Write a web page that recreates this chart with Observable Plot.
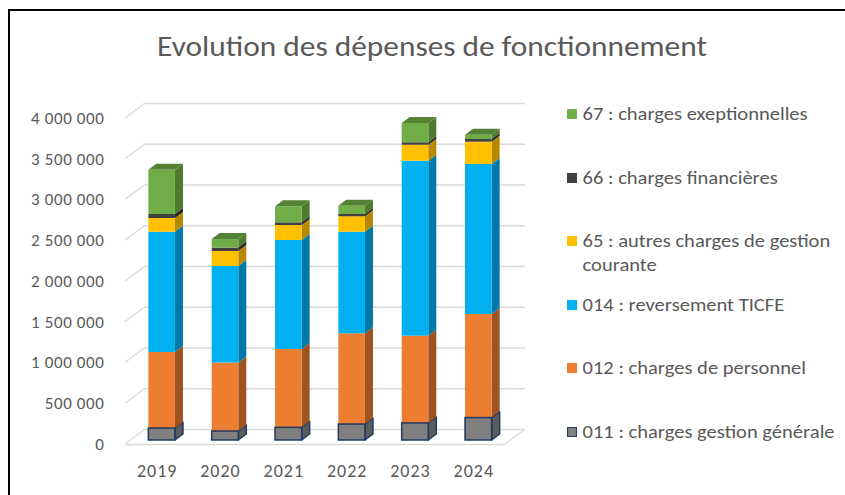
<!DOCTYPE html>
<html>
<head>
<meta charset="utf-8">
<script src="https://cdn.jsdelivr.net/npm/d3@7"></script>
<script src="https://cdn.jsdelivr.net/npm/@observablehq/plot@0.6"></script>
<style>
  body { margin: 0; background: #fff; font-family: Carlito, "Open Sans", sans-serif; }
  #wrap { position: relative; width: 845px; height: 495px; overflow: hidden; background: #fff; }
  #frame { position: absolute; left: 8px; top: 9px; width: 900px; height: 600px; border-left: 2px solid #000; border-top: 2px solid #000; }
  #title { position: absolute; left: 0; width: 864px; top: 32px; text-align: center; font-size: 28px; line-height: 30px; color: #595959; white-space: nowrap; transform: scaleX(1.12); transform-origin: 432px 0; }
  #chart { position: absolute; left: 0; top: 80px; }
  #legend { position: absolute; left: 567px; top: 102px; width: 250px; color: #595959; font-size: 18.5px; transform: scaleX(1.11); transform-origin: 0 0; }
  .item { position: relative; height: 63.6px; line-height: 24px; padding-left: 14px; }
  .sw { position: absolute; left: 0; top: 7px; width: 9px; height: 10px; box-sizing: border-box; }
  g[aria-label^="y-axis"] text { font-size: 17px; letter-spacing: 0.6px; }
  g[aria-label^="x-axis"] text { font-size: 18px; letter-spacing: 1px; }
</style>
</head>
<body>
<div id="wrap">
  <div id="frame"></div>
  <div id="title">Evolution des dépenses de fonctionnement</div>
  <div id="chart"></div>
  <div id="legend"></div>
</div>
<script>
// ---- data ----
const years = ["2019", "2020", "2021", "2022", "2023", "2024"];
const series = [
  "011 : charges gestion générale",
  "012 : charges de personnel",
  "014 : reversement TICFE",
  "65 : autres charges de gestion courante",
  "66 : charges financières",
  "67 : charges exeptionnelles"
];
const v011 = [147000, 110000, 155000, 196000, 209000, 275000];
const v012 = [933000, 840000, 962000, 1113000, 1071000, 1271000];
const v014 = [1475000, 1185000, 1337000, 1247000, 2147000, 1841000];
const v65  = [169000, 184000, 184000, 189000, 196000, 273000];
const v66  = [49000, 42000, 33000, 28000, 30000, 33000];
const v67  = [543000, 105000, 197000, 102000, 237000, 53000];
const yTicks = [0, 500000, 1000000, 1500000, 2000000, 2500000, 3000000, 3500000, 4000000];

const frontColors = ["#808080", "#ED7D31", "#00B0F0", "#FFC000", "#404040", "#70AD47"];
const sideColors  = ["#5c5c5c", "#9d5422", "#0079a8", "#b58800", "#262626", "#4f7b31"];
const topColors   = ["#6e6e6e", "#c0652a", "#0096cc", "#d9a300", "#303030", "#548235"];

// ---- table built from arrays (stacked) ----
const valuesBySeries = [v011, v012, v014, v65, v66, v67];
const rows = [];
years.forEach((year, i) => {
  let cum = 0;
  valuesBySeries.forEach((vals, s) => {
    rows.push({year, series: series[s], s, y1: cum, y2: cum + vals[i], top: s === valuesBySeries.length - 1});
    cum += vals[i];
  });
});

// 3D offsets (styling)
const DX = 5, DY = -4;    // bars sit a little back on the floor
const SX = 8, SY = -6;    // depth of each column
const WX = 20, WY = -15;  // depth of walls / floor

const grid = "#d9d9d9";

function walls(index, scales, values, dims) {
  const y = scales.y;
  const L = dims.marginLeft, R = dims.width - dims.marginRight;
  const g = d3.create("svg:g").attr("stroke", grid).attr("stroke-width", 1.3).attr("fill", "none");
  for (const t of yTicks) {
    g.append("line").attr("x1", L).attr("y1", y(t)).attr("x2", L + WX).attr("y2", y(t) + WY);
  }
  g.append("line").attr("x1", R).attr("y1", y(0)).attr("x2", R + WX).attr("y2", y(0) + WY);
  return g.node();
}

function sides(index, scales) {
  const x = scales.x, y = scales.y;
  const bw = x.bandwidth();
  const g = d3.create("svg:g");
  for (const d of rows) {
    const x0 = x(d.year) + DX, x1 = x0 + bw;
    const yb = y(d.y1) + DY, yt = y(d.y2) + DY;
    const p = g.append("path")
      .attr("d", `M${x1},${yb}L${x1 + SX},${yb + SY}L${x1 + SX},${yt + SY}L${x1},${yt}Z`)
      .attr("fill", sideColors[d.s]);
    if (d.s === 0) p.attr("stroke", "#1F3864").attr("stroke-width", 1.5).attr("stroke-linejoin", "round");
    if (d.top) {
      g.append("path")
        .attr("d", `M${x0},${yt}L${x1},${yt}L${x1 + SX},${yt + SY}L${x0 + SX},${yt + SY}Z`)
        .attr("fill", topColors[d.s]);
    }
  }
  return g.node();
}

const chart = Plot.plot({
  width: 540,
  height: 415,
  marginLeft: 125,
  marginRight: 35,
  marginTop: 38,
  marginBottom: 51,
  style: {fontFamily: 'Carlito, "Open Sans", sans-serif', fontSize: "17px", color: "#595959", background: "transparent"},
  x: {domain: years, paddingInner: 0.58, paddingOuter: 0.29, round: false, label: null, tickSize: 0, tickPadding: 20},
  y: {domain: [0, 4000000], ticks: yTicks, tickFormat: d => d3.format(",")(d).replace(/,/g, " "), tickSize: 0, tickPadding: 21, label: null},
  color: {domain: series, range: frontColors},
  marks: [
    Plot.ruleY(yTicks, {dx: WX, dy: WY, stroke: grid, strokeWidth: 1.3}),
    walls,
    Plot.ruleY([0], {stroke: grid, strokeWidth: 1.3}),
    sides,
    Plot.barY(rows.filter(d => d.s !== 0), {x: "year", y1: "y1", y2: "y2", fill: "series", dx: DX, dy: DY}),
    Plot.barY(rows.filter(d => d.s === 0), {x: "year", y1: "y1", y2: "y2", fill: frontColors[0], stroke: "#1F3864", strokeWidth: 1.5, dx: DX, dy: DY})
  ]
});
document.getElementById("chart").appendChild(chart);

// ---- legend (HTML, top entry = last series) ----
const legend = document.getElementById("legend");
for (let s = series.length - 1; s >= 0; s--) {
  const item = document.createElement("div");
  item.className = "item";
  const sw = document.createElement("span");
  sw.className = "sw";
  sw.style.background = frontColors[s];
  if (s === 0) sw.style.border = "1.5px solid #1F3864";
  item.appendChild(sw);
  item.appendChild(document.createTextNode(series[s]));
  legend.appendChild(item);
}
</script>
</body>
</html>
